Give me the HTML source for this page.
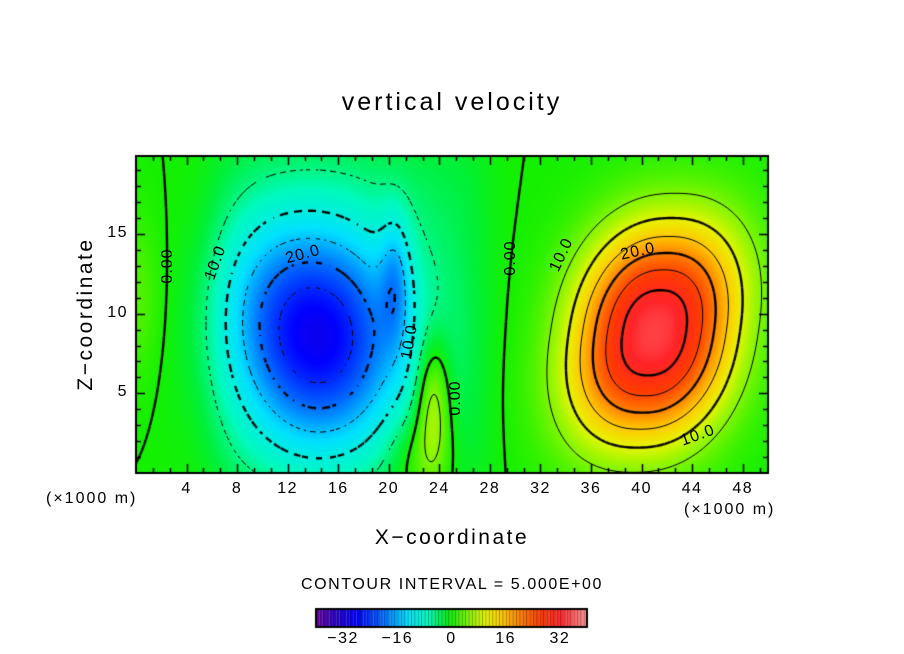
<!DOCTYPE html>
<html><head><meta charset="utf-8">
<style>
body{margin:0;background:#fff;width:904px;height:654px;overflow:hidden;position:relative;font-family:"Liberation Sans","DejaVu Sans",sans-serif;}
.t{position:absolute;color:#000;white-space:nowrap;}
canvas{position:absolute;left:0;top:0;}
</style></head><body>
<canvas id="cv" width="904" height="654"></canvas>
<div class="t" style="left:0;width:904px;text-align:center;top:88px;font-size:25px;letter-spacing:3px;">vertical velocity</div>
<div class="t" style="left:0;width:904px;text-align:center;top:526px;font-size:21px;letter-spacing:2.5px;">X−coordinate</div>
<div class="t" style="left:86px;top:314px;font-size:21px;letter-spacing:2.5px;transform:translate(-50%,-50%) rotate(-90deg);">Z−coordinate</div>
<div class="t" style="left:46px;top:490px;font-size:16px;letter-spacing:2px;">(×1000 m)</div>
<div class="t" style="left:684px;top:501px;font-size:16px;letter-spacing:2px;">(×1000 m)</div>
<div class="t" style="left:0;width:904px;text-align:center;top:576px;font-size:16px;letter-spacing:1.6px;">CONTOUR INTERVAL = 5.000E+00</div>
<div id="labels"></div>
<script>
// chart data
const xTicks=[4,8,12,16,20,24,28,32,36,40,44,48];
const yTicks=[5,10,15];
const cbTicks=[-32,-16,0,16,32];
const blobX=[14.5,41,20.5,23.5,0,17,22.5,10];
const blobY=[8.5,8.8,12,4.5,11,10,1,12];
const blobAmp=[-26,34,-8,10,3,-3,5,-3];
const blobSx=[6.4,6.2,1.2,1.3,2.0,11,2.5,4];
const blobSy=[6.8,6.6,4.0,4.0,5.0,12,3,5];
const levels=[-25,-20,-15,-10,-5,0,5,10,15,20,25,30];
const contourLabels=[{x:2.5,y:13,t:"0.00",r:-90},{x:6.3,y:13.2,t:"10.0",r:-70},{x:13.2,y:13.7,t:"20.0",r:-15},{x:21.7,y:8.2,t:"10.0",r:-80},{x:25.3,y:4.7,t:"0.00",r:-90},{x:29.7,y:13.5,t:"0.00",r:-90},{x:33.7,y:13.7,t:"10.0",r:-65},{x:39.7,y:13.9,t:"20.0",r:-12},{x:44.5,y:2.3,t:"10.0",r:-20}];

const L=136,R=768,T=156,B=473,XMAX=50,YMAX=19.9;
const sx=x=>L+x/XMAX*(R-L), sy=y=>B-y/YMAX*(B-T);
const ix=p=>(p-L)/(R-L)*XMAX, iy=p=>(B-p)/(B-T)*YMAX;
function field(x,y){let v=0;for(let i=0;i<blobX.length;i++){const dx=(x-blobX[i])/blobSx[i],dy=(y-blobY[i])/blobSy[i];
 let e;
 if(i==5)e=Math.pow(dx*dx,4)+Math.pow(dy*dy,3);
 else if(i==1){const u=dx-0.2*dy;e=Math.pow(Math.abs(u),2.3)+Math.pow(Math.abs(dy),2.3);}
 else e=dx*dx+dy*dy;
 v+=blobAmp[i]*Math.exp(-e);}return v;}
const cStops=[[-40,[106,0,160]],[-34,[40,0,200]],[-28,[0,0,255]],[-20,[0,110,255]],[-13,[0,225,255]],[-7,[0,250,190]],[-2.5,[0,240,60]],[0,[20,240,0]],[5,[130,245,0]],[10,[230,245,0]],[15,[255,200,0]],[20,[255,130,0]],[26,[255,60,0]],[32,[255,35,40]],[40,[255,150,150]]];
function col(v){if(v<=cStops[0][0])return cStops[0][1];for(let i=1;i<cStops.length;i++){if(v<=cStops[i][0]){const a=cStops[i-1],b=cStops[i],t=(v-a[0])/(b[0]-a[0]);return a[1].map((c,k)=>Math.round(c+(b[1][k]-c)*t));}}return cStops[cStops.length-1][1];}
const cv=document.getElementById('cv'),g=cv.getContext('2d');
const W=R-L,H=B-T,img=g.createImageData(W,H);
for(let py=0;py<H;py++)for(let px=0;px<W;px++){const c=col(field(ix(L+px+0.5),iy(T+py+0.5)));const o=(py*W+px)*4;img.data[o]=c[0];img.data[o+1]=c[1];img.data[o+2]=c[2];img.data[o+3]=255;}
g.putImageData(img,L,T);
// contours
const S=2,nx=Math.ceil(W/S)+1,ny=Math.ceil(H/S)+1,grid=[];
for(let j=0;j<ny;j++){grid.push([]);for(let i=0;i<nx;i++)grid[j].push(field(ix(L+i*S),iy(T+j*S)));}
g.save();g.beginPath();g.rect(L,T,W,H);g.clip();g.strokeStyle='#000';
levels.forEach(lv=>{g.lineWidth=(lv%10==0)?2.4:1;const neg=lv<0;
 for(let j=0;j<ny-1;j++)for(let i=0;i<nx-1;i++){const a=grid[j][i],b=grid[j][i+1],c=grid[j+1][i+1],d=grid[j+1][i];const pts=[];
  const e=(v1,v2,x1,y1,x2,y2)=>{if((v1-lv)*(v2-lv)<0){const t=(lv-v1)/(v2-v1);pts.push([x1+(x2-x1)*t,y1+(y2-y1)*t]);}};
  const X=L+i*S,Y=T+j*S;e(a,b,X,Y,X+S,Y);e(b,c,X+S,Y,X+S,Y+S);e(d,c,X,Y+S,X+S,Y+S);e(a,d,X,Y,X,Y+S);
  if(pts.length>=2){if(neg){const q=(lv%10==0?7:5);const k=Math.floor(X/q)+Math.floor(Y/q);if(k%2)continue;}
   g.beginPath();g.moveTo(pts[0][0],pts[0][1]);g.lineTo(pts[1][0],pts[1][1]);if(pts.length==4){g.moveTo(pts[2][0],pts[2][1]);g.lineTo(pts[3][0],pts[3][1]);}g.stroke();}}});
g.restore();
// frame and ticks
g.strokeStyle='#000';g.lineWidth=2;g.strokeRect(L,T,W,H);g.lineWidth=1.5;
for(let x=4/3;x<XMAX;x+=4/3){const p=Math.round(sx(x))+0.5;const big=Math.abs(x/4-Math.round(x/4))<0.01;const l=big?9:5;g.beginPath();g.moveTo(p,B);g.lineTo(p,B-l);g.moveTo(p,T);g.lineTo(p,T+l);g.stroke();}
for(let y=1;y<YMAX;y++){const p=Math.round(sy(y))+0.5;const l=y%5==0?9:5;g.beginPath();g.moveTo(L,p);g.lineTo(L+l,p);g.moveTo(R,p);g.lineTo(R-l,p);g.stroke();}
// colorbar
const CL=316,CR=587,CT=609,CB=627,CMIN=-40,CMAX=40,cw=(CR-CL)/80;
for(let k=0;k<80;k++){const v=CMIN+k+0.5;const c=col(v);g.fillStyle=`rgb(${c})`;g.fillRect(CL+k*cw,CT,cw,CB-CT);g.fillStyle='rgba(0,0,0,0.35)';g.fillRect(CL+k*cw,CT,1,CB-CT);}
g.lineWidth=2;g.strokeRect(CL,CT,CR-CL,CB-CT);
const lab=document.getElementById('labels');
xTicks.forEach(v=>{const d=document.createElement('div');d.className='t';


d.style.cssText=`left:${sx(v)-20}px;width:40px;text-align:center;top:480px;font-size:16px;letter-spacing:1.5px;`;d.textContent=v;lab.appendChild(d);});
yTicks.forEach(v=>{const d=document.createElement('div');d.className='t';


d.style.cssText=`left:94px;width:34px;text-align:right;top:${sy(v)-10}px;font-size:16px;letter-spacing:1.5px;`;d.textContent=v;lab.appendChild(d);});
cbTicks.forEach(v=>{const d=document.createElement('div');d.className='t';


d.style.cssText=`left:${CL+(v-CMIN)*cw-25}px;width:50px;text-align:center;top:630px;font-size:16px;letter-spacing:1.5px;`;d.textContent=(v<0?'−'+(-v):v);lab.appendChild(d);});
contourLabels.forEach(o=>{const d=document.createElement('div');d.className='t';


d.style.cssText=`left:${sx(o.x)}px;top:${sy(o.y)}px;font-size:16px;letter-spacing:1px;transform:translate(-50%,-50%) rotate(${o.r}deg);`;d.textContent=o.t;lab.appendChild(d);});
</script>
</body></html>
